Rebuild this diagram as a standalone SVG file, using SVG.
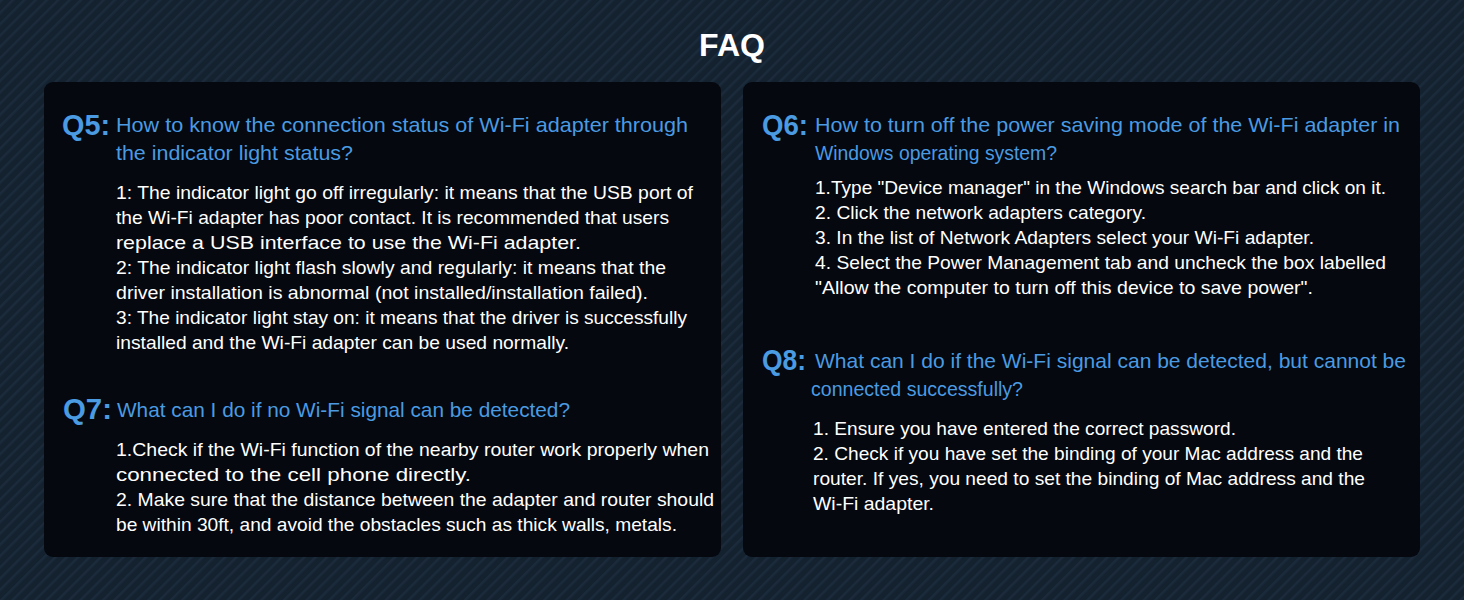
<svg xmlns="http://www.w3.org/2000/svg" width="1464" height="600" viewBox="0 0 1464 600">
<defs>
<pattern id="st" width="8" height="8" patternUnits="userSpaceOnUse" patternTransform="rotate(45)">
<rect width="8" height="8" fill="#14212f"/><rect width="2.5" height="8" fill="#1b2b3b"/>
</pattern>
<style>
text{font-family:"Liberation Sans",Arial,sans-serif}
.t{fill:#fff;font-weight:bold;font-size:32px}
.q{fill:#4a9be2;font-size:30px;font-weight:bold}
.qt{fill:#4a9be2;font-size:21px}
.b{fill:#fff;font-size:19px}
.p{fill:#05080e}
</style>
</defs>
<rect width="1464" height="600" fill="url(#st)"/>
<text class="t" x="732" y="56" text-anchor="middle">FAQ</text>
<g id="panel-left">
<rect class="p" x="44" y="82" width="677" height="475" rx="9"/>
<text class="q" x="62" y="135" textLength="48" lengthAdjust="spacingAndGlyphs">Q5:</text>
<text class="qt" x="116" y="132" textLength="572" lengthAdjust="spacingAndGlyphs">How to know the connection status of Wi-Fi adapter through</text>
<text class="qt" x="116" y="160" textLength="237" lengthAdjust="spacingAndGlyphs">the indicator light status?</text>
<g class="b">
<text x="116" y="199" textLength="577" lengthAdjust="spacingAndGlyphs">1: The indicator light go off irregularly: it means that the USB port of</text>
<text x="116" y="224" textLength="553" lengthAdjust="spacingAndGlyphs">the Wi-Fi adapter has poor contact. It is recommended that users</text>
<text x="116" y="249" textLength="465" lengthAdjust="spacingAndGlyphs">replace a USB interface to use the Wi-Fi adapter.</text>
<text x="116" y="274" textLength="550" lengthAdjust="spacingAndGlyphs">2: The indicator light flash slowly and regularly: it means that the</text>
<text x="116" y="299" textLength="532" lengthAdjust="spacingAndGlyphs">driver installation is abnormal (not installed/installation failed).</text>
<text x="116" y="324" textLength="571" lengthAdjust="spacingAndGlyphs">3: The indicator light stay on: it means that the driver is successfully</text>
<text x="116" y="349" textLength="453" lengthAdjust="spacingAndGlyphs">installed and the Wi-Fi adapter can be used normally.</text>
</g>
<text class="q" x="63" y="419" textLength="49" lengthAdjust="spacingAndGlyphs">Q7:</text>
<text class="qt" x="117" y="417" textLength="453" lengthAdjust="spacingAndGlyphs">What can I do if no Wi-Fi signal can be detected?</text>
<g class="b">
<text x="116" y="456" textLength="593" lengthAdjust="spacingAndGlyphs">1.Check if the Wi-Fi function of the nearby router work properly when</text>
<text x="116" y="481" textLength="355" lengthAdjust="spacingAndGlyphs">connected to the cell phone directly.</text>
<text x="116" y="506" textLength="598" lengthAdjust="spacingAndGlyphs">2. Make sure that the distance between the adapter and router should</text>
<text x="116" y="531" textLength="561" lengthAdjust="spacingAndGlyphs">be within 30ft, and avoid the obstacles such as thick walls, metals.</text>
</g>
</g>
<g id="panel-right">
<rect class="p" x="743" y="82" width="677" height="475" rx="9"/>
<text class="q" x="762" y="135" textLength="46" lengthAdjust="spacingAndGlyphs">Q6:</text>
<text class="qt" x="815" y="132" textLength="585" lengthAdjust="spacingAndGlyphs">How to turn off the power saving mode of the Wi-Fi adapter in</text>
<text class="qt" x="815" y="160" textLength="242" lengthAdjust="spacingAndGlyphs">Windows operating system?</text>
<g class="b">
<text x="815" y="194" textLength="571" lengthAdjust="spacingAndGlyphs">1.Type "Device manager" in the Windows search bar and click on it.</text>
<text x="815" y="219" textLength="331" lengthAdjust="spacingAndGlyphs">2. Click the network adapters category.</text>
<text x="815" y="244" textLength="499" lengthAdjust="spacingAndGlyphs">3. In the list of Network Adapters select your Wi-Fi adapter.</text>
<text x="815" y="269" textLength="571" lengthAdjust="spacingAndGlyphs">4. Select the Power Management tab and uncheck the box labelled</text>
<text x="815" y="294" textLength="498" lengthAdjust="spacingAndGlyphs">"Allow the computer to turn off this device to save power".</text>
</g>
<text class="q" x="762" y="370" textLength="44" lengthAdjust="spacingAndGlyphs">Q8:</text>
<text class="qt" x="815" y="368" textLength="591" lengthAdjust="spacingAndGlyphs">What can I do if the Wi-Fi signal can be detected, but cannot be</text>
<text class="qt" x="811" y="396" textLength="212" lengthAdjust="spacingAndGlyphs">connected successfully?</text>
<g class="b">
<text x="813" y="435" textLength="423" lengthAdjust="spacingAndGlyphs">1. Ensure you have entered the correct password.</text>
<text x="813" y="460" textLength="550" lengthAdjust="spacingAndGlyphs">2. Check if you have set the binding of your Mac address and the</text>
<text x="813" y="485" textLength="552" lengthAdjust="spacingAndGlyphs">router. If yes, you need to set the binding of Mac address and the</text>
<text x="813" y="510" textLength="121" lengthAdjust="spacingAndGlyphs">Wi-Fi adapter.</text>
</g>
</g>
</svg>
